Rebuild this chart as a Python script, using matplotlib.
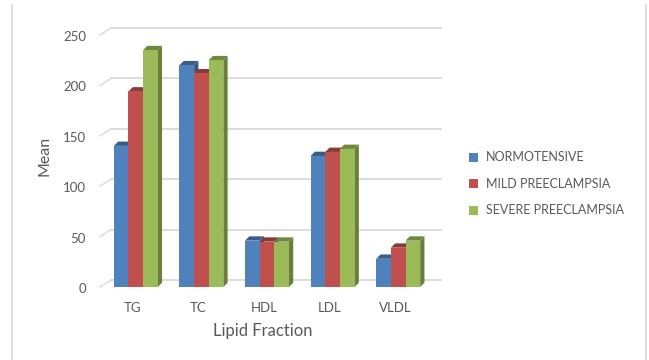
import matplotlib
matplotlib.use("Agg")
import matplotlib.pyplot as plt
import numpy as np
from matplotlib.transforms import offset_copy
from matplotlib.patches import Polygon, Rectangle
from matplotlib.lines import Line2D

# Mean lipid values by group
categories = ["TG", "TC", "HDL", "LDL", "VLDL"]
series_names = ["NORMOTENSIVE", "MILD PREECLAMPSIA", "SEVERE PREECLAMPSIA"]
normotensive = [140, 220, 46, 130, 28]
mild = [194, 212, 45, 134, 39]
severe = [235, 225, 45, 137, 46]
yticks = [0, 50, 100, 150, 200, 250]

values = [normotensive, mild, severe]
colors = ["#4F81BD", "#C0504D", "#9BBB59"]
text_color = "#595959"
grid_color = "#D9D9D9"
FONT = "Lato"


def shade(hex_color, f):
    c = np.array(matplotlib.colors.to_rgb(hex_color))
    return tuple(c * f)


W, H = 649, 360
fig = plt.figure(figsize=(W / 100, H / 100), dpi=100)
# axes in pixel coordinates
L, B, AW, AH = 103, 73, 328, 252
ax = fig.add_axes([L / W, B / H, AW / W, AH / H])
ax.set_xlim(-0.5, len(categories) - 0.5)
ax.set_ylim(0, 250)
ax.axis("off")

td = ax.transData

# back-wall gridlines and the slanted lines towards the tick labels
wall_dx, wall_dy = 8, 7
for v in yticks:
    x0, y0 = td.transform((-0.5, v))
    seg = Line2D([x0 - 3, x0 + wall_dx], [y0, y0 + wall_dy], transform=None,
                 color=grid_color, lw=1.0, zorder=1)
    fig.add_artist(seg)
    x1, _ = td.transform((len(categories) - 0.5, v))
    hl = Line2D([x0 + wall_dx, x1 + 10], [y0 + wall_dy, y0 + wall_dy], transform=None,
                color=grid_color, lw=1.3, zorder=1)
    fig.add_artist(hl)
    fig.text((x0 - 17) / W, (y0 - 2) / H, str(v), ha="right", va="center",
             fontsize=9.5, color=text_color, family=FONT)

# 3D bars: front face, top face and right side face
bw = 0.223
depth = 4.3
n = len(series_names)
for i in range(len(categories)):
    for s in range(n):
        v = values[s][i]
        xl = i + (s - n / 2) * bw
        xr = xl + bw
        (pxl, py0), (pxr, py1) = td.transform([(xl, 0), (xr, v)])
        col = colors[s]
        side = Polygon([(pxr, py0), (pxr + depth, py0 + depth),
                        (pxr + depth, py1 + depth), (pxr, py1)],
                       closed=True, transform=None, facecolor=shade(col, 0.68),
                       edgecolor="none", zorder=3)
        top = Polygon([(pxl, py1), (pxl + depth, py1 + depth),
                       (pxr + depth, py1 + depth), (pxr, py1)],
                      closed=True, transform=None, facecolor=shade(col, 0.72),
                      edgecolor="none", zorder=3)
        front = Rectangle((pxl, py0), pxr - pxl, py1 - py0, transform=None,
                          facecolor=col, edgecolor="none", zorder=3)
        for p in (side, top, front):
            fig.add_artist(p)

# category labels
for i, c in enumerate(categories):
    px, py = td.transform((i, 0))
    fig.text((px - 3) / W, (H - 308) / H, c, ha="center", va="center",
             fontsize=9.5, color=text_color, family=FONT)

fig.text(263 / W, (H - 331) / H, "Lipid Fraction", ha="center", va="center",
         fontsize=12, color=text_color, family=FONT)
fig.text(45 / W, (H - 156) / H, "Mean", ha="center", va="center", rotation=90,
         fontsize=11.5, color=text_color, family=FONT)

# legend
for k, name in enumerate(series_names):
    cy = 157 + 26.7 * k
    fig.add_artist(Rectangle((469, H - cy - 4.5), 9, 9, transform=None,
                             facecolor=colors[k], edgecolor="none"))
    fig.text(486 / W, (H - cy) / H, name, ha="left", va="center",
             fontsize=9, color=text_color, family=FONT)

# chart frame sides
for xp in (12, 646):
    fig.add_artist(Line2D([xp, xp], [0, H - 5], transform=None,
                          color="#D9D9D9", lw=1.2))

fig.savefig("out.png", dpi=100)
